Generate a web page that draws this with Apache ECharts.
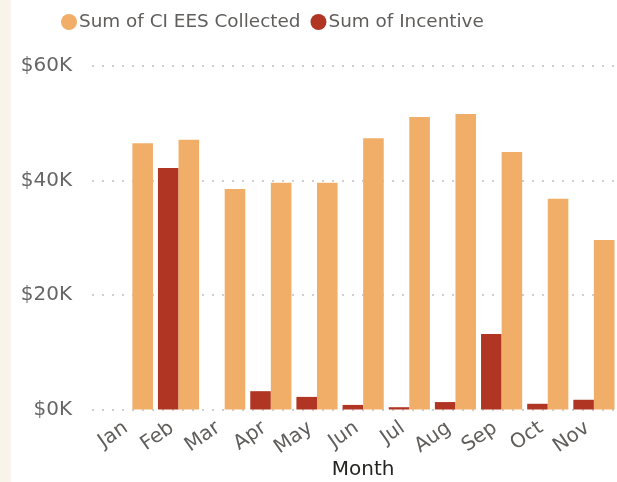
<!DOCTYPE html>
<html>
<head>
<meta charset="utf-8">
<style>
    html, body { margin: 0; padding: 0; background: #fff; }
    #main { width: 617px; height: 482px; }
</style>
<script src="https://cdn.jsdelivr.net/npm/echarts@6/dist/echarts.min.js"></script>
</head>
<body>
<div id="main"></div>
<script>
// data
var months = ['Jan', 'Feb', 'Mar', 'Apr', 'May', 'Jun', 'Jul', 'Aug', 'Sep', 'Oct', 'Nov'];
var eesCollected = [46500, 47100, 38500, 39600, 39600, 47400, 51100, 51600, 45000, 36800, 29600];
var incentive = [0, 42200, 0, 3200, 2200, 800, 400, 1300, 13200, 1000, 1700];
var yTicks = [0, 20000, 40000, 60000];

var font = 'DejaVu Sans';
var myChart = echarts.init(document.getElementById('main'));

var option = {
    animation: false,
    textStyle: { fontFamily: font },
    // left beige strip
    graphic: [{
        type: 'rect',
        shape: { x: 0, y: 0, width: 11, height: 482 },
        style: { fill: '#f8f4ea' },
        silent: true
    }],
    legend: {
        left: 56,
        top: 8,
        icon: 'circle',
        itemWidth: 16,
        itemHeight: 16,
        itemGap: 10,
        textStyle: { fontSize: 18.4, color: '#605e5c', fontFamily: font, padding: [0, 0, 0, -3] },
        data: ['Sum of CI EES Collected', 'Sum of Incentive']
    },
    grid: [
        // grid for the y axis and dotted lines
        { left: 92, right: 0, top: 66, bottom: 72.5, outerBoundsMode: 'none' },
        // grid for the bars
        { left: 109.3, right: 0, top: 66, bottom: 72.5, outerBoundsMode: 'none' }
    ],
    xAxis: [{
        gridIndex: 0,
        type: 'category',
        data: months,
        show: false
    }, {
        gridIndex: 1,
        type: 'category',
        data: months,
        axisLine: { show: false },
        axisTick: { show: false },
        axisLabel: {
            rotate: 35,
            margin: 12,
            padding: [0, 8, 0, 0],
            fontSize: 20,
            color: '#605e5c',
            fontFamily: font
        },
        name: 'Month',
        nameLocation: 'middle',
        nameGap: 50,
        nameMoveOverlap: false,
        nameTextStyle: { fontSize: 20, color: '#252423', fontFamily: font }
    }],
    yAxis: [{
        gridIndex: 0,
        type: 'value',
        min: yTicks[0],
        max: yTicks[yTicks.length - 1],
        interval: yTicks[1] - yTicks[0],
        axisLine: { show: false },
        axisTick: { show: false },
        axisLabel: {
            margin: 20,
            fontSize: 20,
            color: '#666666',
            fontFamily: font,
            formatter: function (v) { return '$' + (v / 1000) + 'K'; }
        },
        splitLine: {
            lineStyle: { color: '#cfcfcf', width: 2, type: [2, 8] }
        }
    }, {
        gridIndex: 1,
        type: 'value',
        min: yTicks[0],
        max: yTicks[yTicks.length - 1],
        show: false
    }],
    series: [{
        name: 'Sum of Incentive',
        type: 'bar',
        xAxisIndex: 1,
        yAxisIndex: 1,
        barGap: 0,
        barCategoryGap: '10.8%',
        itemStyle: { color: '#b03623' },
        data: incentive
    }, {
        name: 'Sum of CI EES Collected',
        type: 'bar',
        xAxisIndex: 1,
        yAxisIndex: 1,
        barGap: 0,
        barCategoryGap: '10.8%',
        itemStyle: { color: '#f0ae69' },
        data: eesCollected
    }]
};

myChart.setOption(option);
</script>
</body>
</html>
